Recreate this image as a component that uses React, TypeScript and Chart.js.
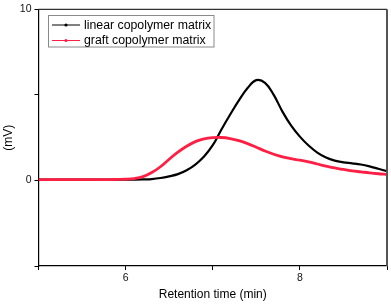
import React, { useEffect, useRef } from "react";
import { Chart, registerables } from "chart.js";

Chart.register(...registerables);

const retentionTime = [
  5.0, 5.1, 5.2, 5.3, 5.4, 5.5, 5.6, 5.7, 5.8, 5.9,
  6.0, 6.1, 6.2, 6.3, 6.4, 6.5, 6.6, 6.7, 6.8, 6.9,
  7.0, 7.1, 7.2, 7.3, 7.4, 7.5, 7.6, 7.7, 7.8, 7.9,
  8.0, 8.1, 8.2, 8.3, 8.4, 8.5, 8.6, 8.7, 8.8, 8.9, 9.0,
];

const linearMatrix = [
  0.05, 0.05, 0.05, 0.05, 0.05, 0.05, 0.05, 0.05, 0.05, 0.05,
  0.05, 0.05, 0.06, 0.08, 0.14, 0.24, 0.37, 0.6, 0.93, 1.4,
  2.06, 2.98, 3.85, 4.68, 5.4, 5.86, 5.7, 5.0, 4.02, 3.2,
  2.56, 2.04, 1.63, 1.34, 1.16, 1.06, 1.0, 0.93, 0.82, 0.68, 0.54,
];

const graftMatrix = [
  0.05, 0.05, 0.05, 0.05, 0.05, 0.05, 0.05, 0.05, 0.05, 0.06,
  0.07, 0.11, 0.22, 0.46, 0.8, 1.24, 1.65, 2.0, 2.27, 2.43,
  2.5, 2.51, 2.45, 2.33, 2.15, 1.94, 1.72, 1.53, 1.38, 1.27,
  1.18, 1.08, 0.96, 0.84, 0.73, 0.64, 0.56, 0.5, 0.44, 0.39, 0.35,
];

const seriesNames = ["linear copolymer matrix", "graft copolymer matrix"];
const xLabeled = [6, 8];
const yLabeled = [0, 10];

const FONT = "'Liberation Sans', Arial, sans-serif";
const BLACK = "#000000";
const RED = "#ff1f45";

const framePlugin = {
  id: "frame",
  afterDraw(chart: any) {
    const { ctx, chartArea } = chart;
    const { left, right, top, bottom } = chartArea;
    ctx.save();
    ctx.strokeStyle = "#333333";
    ctx.lineWidth = 1.2;
    ctx.beginPath();
    ctx.moveTo(left, top);
    ctx.lineTo(right, top);
    ctx.stroke();
    ctx.strokeStyle = "#555555";
    ctx.lineWidth = 2;
    ctx.beginPath();
    ctx.moveTo(right, top);
    ctx.lineTo(right, bottom);
    ctx.stroke();

    // legend
    const bx = 48.5, by = 15.5, bw = 165.5, bh = 31.5;
    ctx.fillStyle = "#ffffff";
    ctx.fillRect(bx, by, bw, bh);
    ctx.strokeStyle = "#8a8a8a";
    ctx.lineWidth = 1;
    ctx.strokeRect(bx, by, bw, bh);
    const rows = [
      { y: 25, color: BLACK, text: seriesNames[0] },
      { y: 40.5, color: RED, text: seriesNames[1] },
    ];
    ctx.font = `12.3px ${FONT}`;
    ctx.textBaseline = "middle";
    ctx.textAlign = "left";
    for (const r of rows) {
      ctx.strokeStyle = r.color;
      ctx.lineWidth = 1;
      ctx.beginPath();
      ctx.moveTo(52, r.y);
      ctx.lineTo(80, r.y);
      ctx.stroke();
      ctx.fillStyle = r.color;
      ctx.beginPath();
      ctx.arc(66, r.y, 1.6, 0, Math.PI * 2);
      ctx.fill();
      ctx.fillStyle = "#000000";
      ctx.fillText(r.text, 84, r.y + 0.5);
    }
    ctx.restore();
  },
};

export default function App() {
  const ref = useRef<HTMLCanvasElement | null>(null);

  useEffect(() => {
    if (!ref.current) return;
    const chart = new Chart(ref.current, {
      type: "line",
      data: {
        datasets: [
          {
            label: seriesNames[0],
            data: retentionTime.map((x, i) => ({ x, y: linearMatrix[i] })),
            borderColor: BLACK,
            borderWidth: 2.2,
            pointRadius: 0,
            tension: 0.4,
            order: 1,
          },
          {
            label: seriesNames[1],
            data: retentionTime.map((x, i) => ({ x, y: graftMatrix[i] })),
            borderColor: RED,
            borderWidth: 2.8,
            pointRadius: 0,
            tension: 0.4,
            order: 0,
          },
        ],
      },
      options: {
        animation: false,
        responsive: false,
        devicePixelRatio: 1,
        layout: { padding: { top: 5, right: 4, left: 0, bottom: 0 } },
        plugins: {
          legend: { display: false },
          tooltip: { enabled: false },
        },
        scales: {
          x: {
            type: "linear",
            min: 5,
            max: 9,
            afterFit: (s: any) => {
              s.height = 40;
            },
            ticks: {
              stepSize: 1,
              padding: 2,
              color: "#111111",
              font: { family: FONT, size: 10.5 },
              maxRotation: 0,
              callback: (v: any) => (xLabeled.includes(Number(v)) ? String(v) : ""),
            },
            grid: {
              drawOnChartArea: false,
              drawTicks: true,
              tickLength: 4,
              color: "#000000",
            },
            border: { display: true, color: "#000000", width: 1.2 },
            title: {
              display: true,
              text: "Retention time (min)",
              color: "#000000",
              font: { family: FONT, size: 12 },
              padding: { top: 0, bottom: 4 },
            },
          },
          y: {
            type: "linear",
            min: -5,
            max: 10,
            afterFit: (s: any) => {
              s.width = 38.5;
            },
            ticks: {
              stepSize: 5,
              padding: 3,
              color: "#111111",
              font: { family: FONT, size: 10.5 },
              callback: (v: any) => (yLabeled.includes(Number(v)) ? String(v) : ""),
            },
            grid: {
              drawOnChartArea: false,
              drawTicks: true,
              tickLength: 4,
              color: "#000000",
            },
            border: { display: true, color: "#000000", width: 1.2 },
            title: {
              display: true,
              text: "(mV)",
              color: "#000000",
              font: { family: FONT, size: 12 },
              padding: { top: 1, bottom: 0 },
            },
          },
        },
      },
      plugins: [framePlugin],
    });
    return () => chart.destroy();
  }, []);

  return (
    <div style={{ position: "fixed", left: 0, top: 0, width: 391, height: 306, background: "#fff" }}>
      <canvas ref={ref} width={391} height={306} style={{ display: "block" }} />
    </div>
  );
}
